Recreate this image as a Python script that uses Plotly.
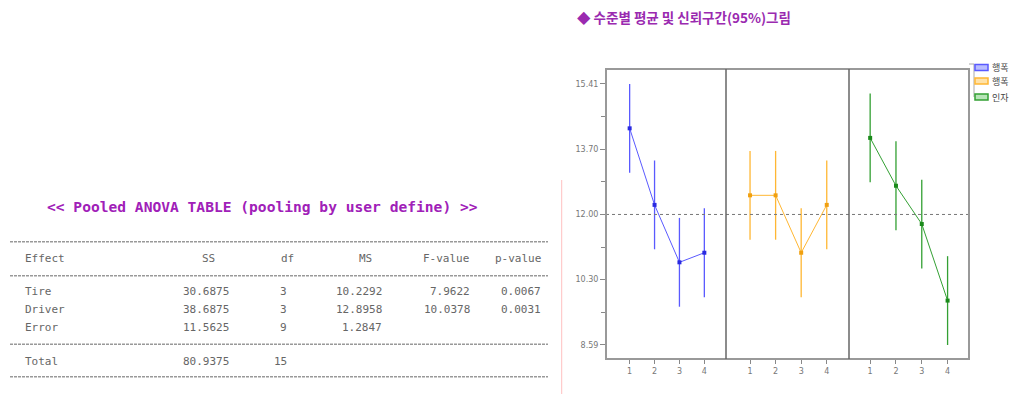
import plotly.graph_objects as go

# ---------------- data ----------------
levels = [1, 2, 3, 4]
tire_means = [14.25, 12.25, 10.75, 11.00]
pooled_means = [12.50, 12.50, 11.00, 12.25]
driver_means = [14.00, 12.75, 11.75, 9.75]
ci_half = [1.16, 1.16, 1.16, 1.16]
grand_mean = 12.00

ytick_vals = [8.59, 10.30, 12.00, 13.70, 15.41]
ytick_text = ["8.59", "10.30", "12.00", "13.70", "15.41"]
yminor_vals = [9.445, 11.15, 12.85, 14.555]

legend_labels = ["행폭", "행폭", "인자"]
series_colors = ["#5a5aff", "#ffb733", "#33a033"]
marker_colors = ["#2a2ae0", "#f0a010", "#1a8a1a"]
legend_fill = ["#b8bcff", "#ffe2a8", "#b8e4b8"]

anova_title = "<< Pooled ANOVA TABLE (pooling by user define) >>"
anova_header = ["Effect", "SS", "df", "MS", "F-value", "p-value"]
anova_effects = ["Tire", "Driver", "Error"]
anova_ss = ["30.6875", "38.6875", "11.5625"]
anova_df = ["3", "3", "9"]
anova_ms = ["10.2292", "12.8958", "1.2847"]
anova_f = ["7.9622", "10.0378", ""]
anova_p = ["0.0067", "0.0031", ""]
total_label = "Total"
total_ss = "80.9375"
total_df = "15"

chart_title = "◆ 수준별 평균 및 신뢰구간(95%)그림"

# ---------------- helpers ----------------
W, H = 1015, 394
def px(x):
    return x / W
def py(y):
    return 1 - y / H

x_edges = [606, 726, 849, 969]
y_top, y_bot = 69, 359
xranges = [[0.05, 4.87], [0.06, 4.87], [0.18, 4.83]]

fig = go.Figure()

series = [tire_means, pooled_means, driver_means]
axes = ["x", "x2", "x3"]
for i, means in enumerate(series):
    fig.add_trace(go.Scatter(
        x=levels, y=means, xaxis=axes[i], yaxis="y",
        mode="lines+markers",
        line=dict(color=series_colors[i], width=1),
        marker=dict(color=marker_colors[i], size=4, symbol="square"),
        error_y=dict(type="data", array=ci_half, visible=True,
                     color=series_colors[i], thickness=1.3, width=0),
        showlegend=False, hoverinfo="skip",
    ))

layout_axes = {}
for i, name in enumerate(["xaxis", "xaxis2", "xaxis3"]):
    layout_axes[name] = dict(
        domain=[px(x_edges[i]), px(x_edges[i + 1])],
        range=xranges[i], anchor="y",
        tickmode="array", tickvals=levels, ticktext=[str(v) for v in levels],
        ticks="outside", ticklen=4, tickcolor="#888", tickwidth=1,
        tickfont=dict(family="DejaVu Sans", size=8, color="#777"),
        showgrid=False, zeroline=False, showline=False, fixedrange=True,
    )

fig.update_layout(
    width=W, height=H, autosize=False,
    margin=dict(l=0, r=0, t=0, b=0),
    paper_bgcolor="white", plot_bgcolor="white",
    yaxis=dict(
        domain=[py(y_bot), py(y_top)], range=[8.224, 15.80], anchor="x",
        tickmode="array", tickvals=ytick_vals, ticktext=ytick_text,
        ticks="outside", ticklen=5, tickcolor="#888", tickwidth=1,
        minor=dict(tickmode="array", tickvals=yminor_vals, ticks="outside",
                   ticklen=4, tickcolor="#888"),
        tickfont=dict(family="DejaVu Sans", size=8, color="#777"),
        showgrid=False, zeroline=False, showline=False, fixedrange=True,
    ),
    **layout_axes,
)

shapes = []
shapes.append(dict(type="line", xref="paper", yref="y",
                   x0=px(x_edges[0]), x1=px(x_edges[3]), y0=grand_mean, y1=grand_mean,
                   line=dict(color="#777", width=1, dash="3px,3px")))
shapes.append(dict(type="rect", xref="paper", yref="paper",
                   x0=px(x_edges[0]), x1=px(x_edges[3]), y0=py(y_bot), y1=py(y_top),
                   line=dict(color="#999", width=2)))
for xe in x_edges[1:3]:
    shapes.append(dict(type="line", xref="paper", yref="paper",
                       x0=px(xe), x1=px(xe), y0=py(y_bot), y1=py(y_top),
                       line=dict(color="#666", width=1.5)))
shapes.append(dict(type="line", xref="paper", yref="paper",
                   x0=px(969), x1=px(974), y0=py(64), y1=py(64),
                   line=dict(color="#aaa", width=1)))
shapes.append(dict(type="line", xref="paper", yref="paper",
                   x0=px(974), x1=px(974), y0=py(64), y1=py(97),
                   line=dict(color="#aaa", width=1)))
legend_y = [67.5, 81, 97]
for i in range(3):
    shapes.append(dict(type="rect", xref="paper", yref="paper",
                       x0=px(975), x1=px(988), y0=py(legend_y[i] + 3), y1=py(legend_y[i] - 3),
                       fillcolor=legend_fill[i], line=dict(color=series_colors[i], width=1.5)))
shapes.append(dict(type="line", xref="paper", yref="paper",
                   x0=px(561.7), x1=px(561.7), y0=py(180), y1=py(394),
                   line=dict(color="#ffc0c0", width=1)))
for yy in [241.7, 275.7, 344.3, 376.7]:
    shapes.append(dict(type="line", xref="paper", yref="paper",
                       x0=px(10), x1=px(548), y0=py(yy), y1=py(yy),
                       line=dict(color="#999", width=1.5, dash="3px,1px")))
fig.update_layout(shapes=shapes)

ann = []
def text(x, y, s, anchor="left", size=11, color="#666", family="DejaVu Sans Mono", bold=False):
    ann.append(dict(xref="paper", yref="paper", x=px(x), y=py(y), text=("<b>%s</b>" % s) if bold else s,
                    showarrow=False, xanchor=anchor, yanchor="middle",
                    font=dict(family=family, size=size, color=color)))

text(575, 17, chart_title, size=13.5, color="#9a2ab0", family="Noto Sans CJK KR", bold=True)
for i in range(3):
    text(990, legend_y[i], legend_labels[i], size=9, color="#444", family="Noto Sans CJK KR")

text(45, 206, anova_title.replace("<", "&lt;").replace(">", "&gt;"), size=14.6, color="#a020b8", bold=True)

hy = 258
text(22.7, hy, anova_header[0])
text(208, hy, anova_header[1], anchor="center")
text(287, hy, anova_header[2], anchor="center")
text(365, hy, anova_header[3], anchor="center")
text(471, hy, anova_header[4], anchor="right")
text(543, hy, anova_header[5], anchor="right")

row_y = [291.7, 309.5, 327]
for i in range(3):
    yy = row_y[i]
    text(22.7, yy, anova_effects[i])
    text(231, yy, anova_ss[i], anchor="right")
    text(289, yy, anova_df[i], anchor="right")
    text(384, yy, anova_ms[i], anchor="right")
    if anova_f[i]:
        text(472, yy, anova_f[i], anchor="right")
    if anova_p[i]:
        text(543, yy, anova_p[i], anchor="right")

text(22.7, 361, total_label)
text(231, 361, total_ss, anchor="right")
text(289, 361, total_df, anchor="right")

fig.update_layout(annotations=ann)
fig.write_html("out.html", config={"displayModeBar": False},
               post_script="document.body.style.margin='0';document.body.style.overflow='hidden';")
